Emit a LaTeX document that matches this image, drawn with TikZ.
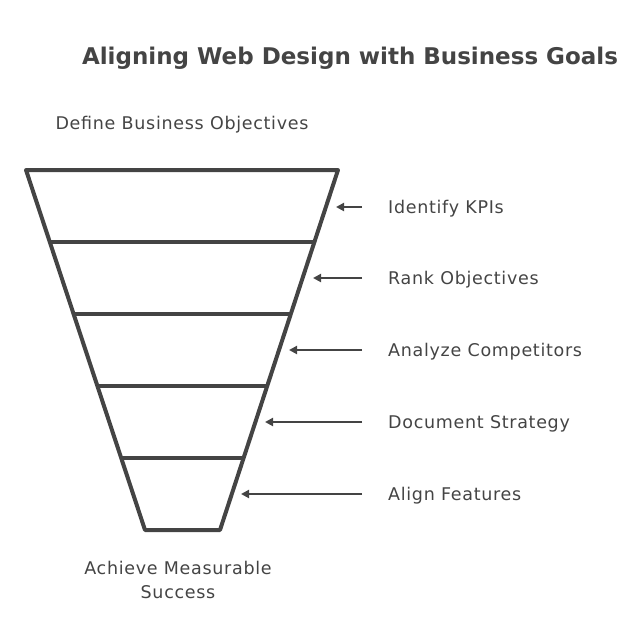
\documentclass[tikz,border=0pt]{standalone}
\usepackage{fontspec}
\setmainfont{DejaVu Sans}
\usetikzlibrary{arrows.meta}
\definecolor{ink}{HTML}{444444}
\begin{document}
\begin{tikzpicture}[x=1pt,y=-1pt,
  funnel/.style={draw=ink,line width=4pt,line join=round},
  pointer/.style={draw=ink,line width=2pt,-{Triangle[length=8pt,width=8pt]}},
  steplabel/.style={anchor=west,inner sep=0pt,text=ink,font=\fontsize{17.5}{20}\selectfont\addfontfeature{LetterSpace=4}},
  caption/.style={inner sep=0pt,text=ink,font=\fontsize{17.5}{24}\selectfont\addfontfeature{LetterSpace=4},align=center}]
\useasboundingbox (0,0) rectangle (620,640);
% title
\node (title) [inner sep=0pt,text=ink,font=\bfseries\fontsize{23}{28}\selectfont] at (350,58) {Aligning Web Design with Business Goals};
\node (top) [caption] at (182,125) {Define Business Objectives};
\node (bottom) [caption] at (178,580) {Achieve Measurable\\Success};
% funnel
\draw [funnel] (26,170) -- (338,170) -- (220,530) -- (145,530) -- cycle;
\draw [funnel] (49.8,242) -- (314.4,242);
\draw [funnel] (73.6,314) -- (290.8,314);
\draw [funnel] (97.4,386) -- (267.2,386);
\draw [funnel] (121.2,458) -- (243.6,458);
% right edge points
\coordinate (e1) at (336,207);
\coordinate (e2) at (313,278);
\coordinate (e3) at (289,350);
\coordinate (e4) at (265,422);
\coordinate (e5) at (241,494);
% labels
\node (l1) [steplabel] at (388,209) {Identify KPIs};
\node (l2) [steplabel] at (388,280) {Rank Objectives};
\node (l3) [steplabel] at (388,352) {Analyze Competitors};
\node (l4) [steplabel] at (388,424) {Document Strategy};
\node (l5) [steplabel] at (388,496) {Align Features};
\foreach \i in {1,...,5} {
  \coordinate (s\i) at ([xshift=-26pt]l\i.west);
  \draw [pointer] (s\i |- e\i) -- (e\i);
}
\end{tikzpicture}
\end{document}
